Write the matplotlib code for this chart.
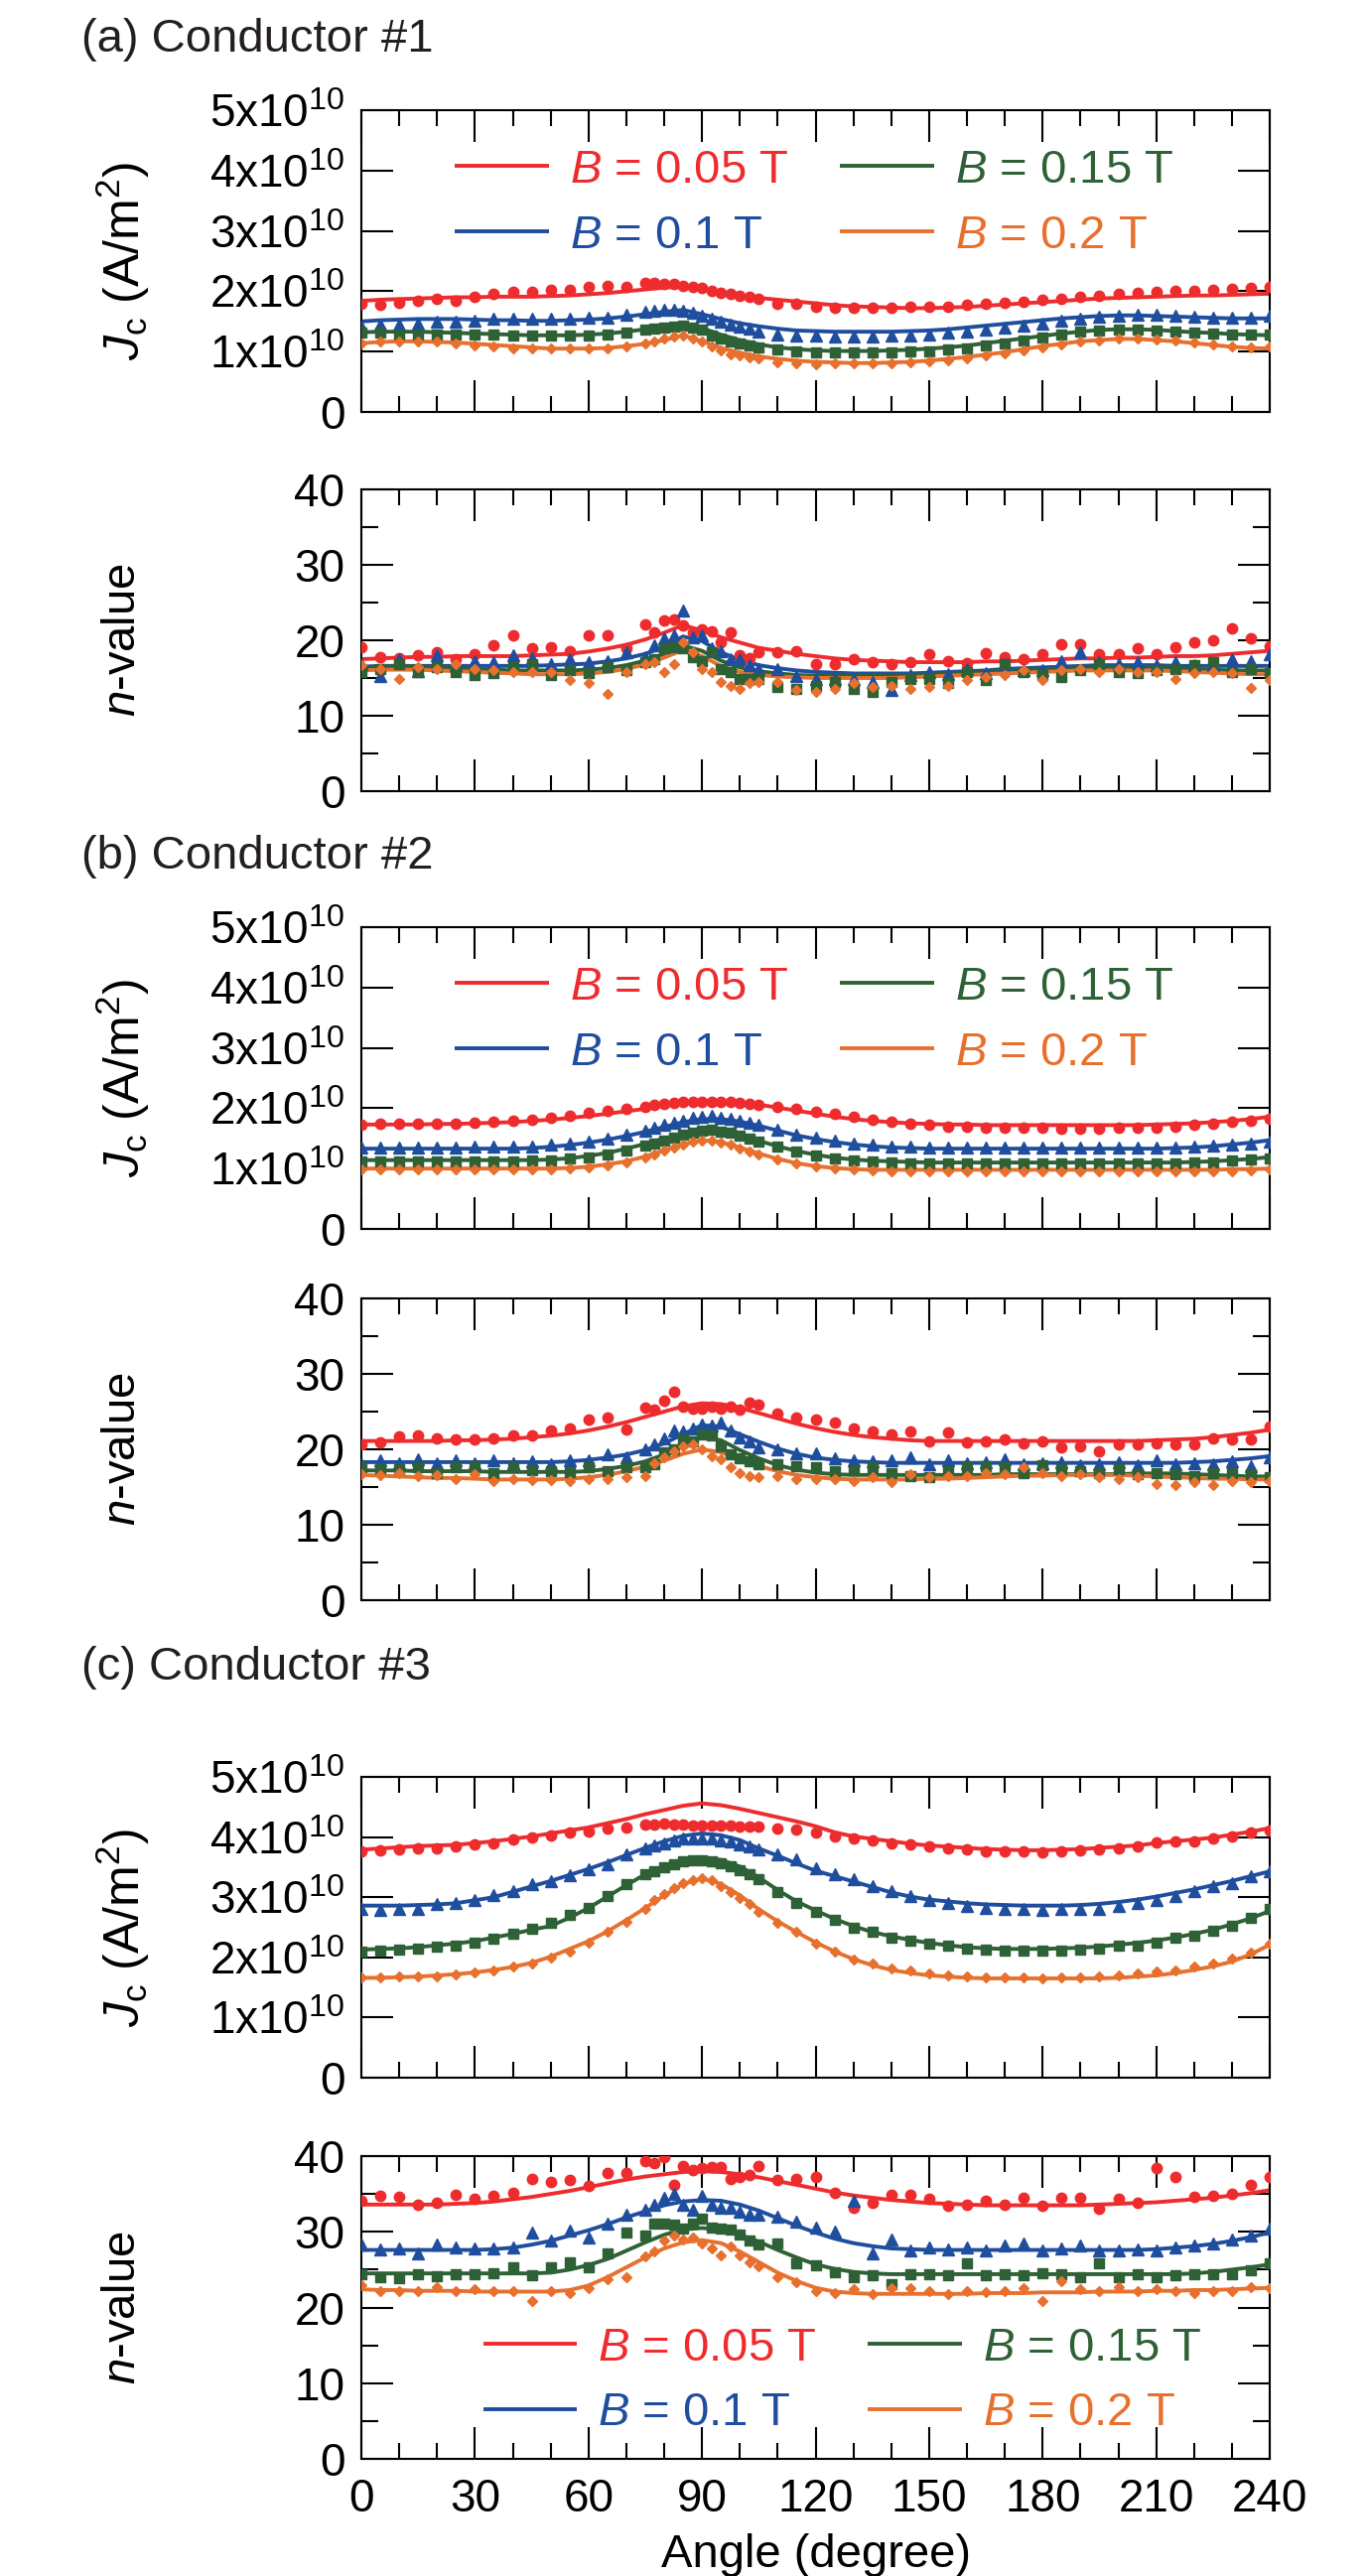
'''
Angular dependence of critical current density Jc and n-value
for three conductors at B = 0.05, 0.1, 0.15 and 0.2 T.
Symbols are measurements, solid lines are the fitted curves.
'''
import numpy as np
import matplotlib
matplotlib.use('Agg')
import matplotlib.pyplot as plt
from matplotlib.ticker import MultipleLocator, FuncFormatter

plt.rcParams['font.family'] = ['Liberation Sans', 'DejaVu Sans']
plt.rcParams['mathtext.fontset'] = 'custom'
plt.rcParams['mathtext.rm'] = 'Liberation Sans'
plt.rcParams['mathtext.it'] = 'Liberation Sans:italic'
plt.rcParams['mathtext.bf'] = 'Liberation Sans:bold'

##--------------------------------------------------------------------
# measurement angles (degree), denser around 90
angle = [0, 5, 10, 15, 20, 25, 30, 35, 40, 45, 50, 55, 60, 65, 70,
         75, 77.5, 80, 82.5, 85, 87.5, 90, 92.5, 95, 97.5, 100, 102.5, 105,
         110, 115, 120, 125, 130, 135, 140, 145, 150, 155, 160, 165, 170, 175, 180,
         185, 190, 195, 200, 205, 210, 215, 220, 225, 230, 235, 240]

# angles of the fitted curves
fit_angle = [0, 5, 10, 15, 20, 25, 30, 35, 40, 45,
             50, 55, 60, 65, 70, 75, 80, 85, 90, 95,
             100, 105, 110, 115, 120, 125, 130, 135, 140, 145,
             150, 155, 160, 165, 170, 175, 180, 185, 190, 195,
             200, 205, 210, 215, 220, 225, 230, 235, 240]

fields = ['0.05', '0.1', '0.15', '0.2']
colors = ['#EE2C2E', '#1F4E9F', '#2E6136', '#E8702E']
markers = ['o', '^', 's', 'D']
msizes = [7.5, 8.5, 7.0, 5.5]

JC_UNIT = 1e10  # Jc arrays below are in units of 1e10 A/m^2

# ---- Conductor #1, Jc ----
jc1_b005 = [1.80, 1.77, 1.81, 1.84, 1.88, 1.85, 1.91, 1.96, 1.99, 1.99, 2.02, 2.02, 2.07, 2.09, 2.07,
            2.13, 2.13, 2.12, 2.12, 2.09, 2.07, 2.05, 2.00, 1.97, 1.95, 1.93, 1.91, 1.88,
            1.80, 1.80, 1.75, 1.73, 1.72, 1.72, 1.73, 1.74, 1.74, 1.75, 1.77, 1.79, 1.81, 1.83,
            1.86, 1.88, 1.91, 1.93, 1.95, 1.97, 1.99, 2.00, 2.01, 2.03, 2.04, 2.05, 2.07]
jc1_b010 = [1.42, 1.44, 1.45, 1.46, 1.49, 1.50, 1.52, 1.54, 1.54, 1.54, 1.54, 1.55, 1.56, 1.56, 1.62,
            1.66, 1.67, 1.69, 1.70, 1.68, 1.65, 1.60, 1.54, 1.49, 1.45, 1.41, 1.38, 1.34,
            1.28, 1.27, 1.26, 1.25, 1.25, 1.25, 1.26, 1.27, 1.29, 1.31, 1.33, 1.36, 1.39, 1.43,
            1.47, 1.51, 1.55, 1.58, 1.60, 1.61, 1.61, 1.60, 1.58, 1.57, 1.56, 1.56, 1.59]
jc1_b015 = [1.31, 1.31, 1.29, 1.29, 1.29, 1.29, 1.28, 1.28, 1.27, 1.27, 1.26, 1.26, 1.27, 1.29, 1.32,
            1.36, 1.38, 1.40, 1.42, 1.43, 1.39, 1.36, 1.27, 1.22, 1.17, 1.13, 1.10, 1.07,
            1.03, 1.00, 0.99, 0.98, 0.98, 0.98, 0.99, 1.00, 1.01, 1.03, 1.06, 1.10, 1.14, 1.19,
            1.24, 1.29, 1.33, 1.35, 1.36, 1.36, 1.35, 1.33, 1.31, 1.30, 1.29, 1.28, 1.28]
jc1_b020 = [1.14, 1.17, 1.17, 1.17, 1.16, 1.14, 1.10, 1.09, 1.06, 1.05, 1.05, 1.05, 1.05, 1.06, 1.08,
            1.14, 1.17, 1.22, 1.25, 1.27, 1.22, 1.17, 1.09, 1.02, 0.96, 0.93, 0.90, 0.88,
            0.83, 0.80, 0.79, 0.80, 0.80, 0.80, 0.81, 0.82, 0.84, 0.86, 0.89, 0.93, 0.97, 1.02,
            1.07, 1.12, 1.16, 1.19, 1.21, 1.21, 1.20, 1.18, 1.15, 1.12, 1.09, 1.07, 1.08]

jc1_fit_b005 = [1.84, 1.86, 1.87, 1.88, 1.89, 1.90, 1.90, 1.91, 1.91, 1.91,
                1.92, 1.93, 1.95, 1.97, 2.00, 2.03, 2.06, 2.08, 2.04, 1.98,
                1.93, 1.89, 1.86, 1.83, 1.80, 1.77, 1.75, 1.74, 1.73, 1.72,
                1.72, 1.73, 1.74, 1.76, 1.78, 1.80, 1.82, 1.84, 1.86, 1.88,
                1.89, 1.90, 1.91, 1.92, 1.93, 1.93, 1.94, 1.95, 1.96]
jc1_fit_b010 = [1.50, 1.52, 1.53, 1.54, 1.54, 1.54, 1.53, 1.52, 1.52, 1.51,
                1.51, 1.52, 1.53, 1.55, 1.58, 1.62, 1.66, 1.69, 1.62, 1.54,
                1.47, 1.42, 1.38, 1.35, 1.34, 1.33, 1.33, 1.33, 1.33, 1.34,
                1.35, 1.37, 1.40, 1.43, 1.46, 1.49, 1.52, 1.55, 1.57, 1.59,
                1.60, 1.60, 1.59, 1.58, 1.57, 1.56, 1.55, 1.55, 1.55]
jc1_fit_b015 = [1.32, 1.33, 1.33, 1.33, 1.32, 1.31, 1.30, 1.29, 1.28, 1.27,
                1.27, 1.27, 1.28, 1.30, 1.33, 1.37, 1.42, 1.47, 1.39, 1.28,
                1.19, 1.12, 1.07, 1.04, 1.02, 1.01, 1.01, 1.01, 1.02, 1.03,
                1.05, 1.07, 1.10, 1.14, 1.18, 1.22, 1.26, 1.30, 1.33, 1.36,
                1.37, 1.37, 1.36, 1.34, 1.32, 1.31, 1.29, 1.28, 1.27]
jc1_fit_b020 = [1.14, 1.16, 1.17, 1.17, 1.16, 1.15, 1.13, 1.11, 1.09, 1.07,
                1.05, 1.05, 1.05, 1.06, 1.09, 1.13, 1.19, 1.27, 1.17, 1.06,
                0.98, 0.92, 0.88, 0.85, 0.83, 0.82, 0.81, 0.81, 0.82, 0.83,
                0.85, 0.88, 0.91, 0.95, 0.99, 1.04, 1.09, 1.13, 1.17, 1.19,
                1.21, 1.21, 1.19, 1.17, 1.14, 1.11, 1.08, 1.06, 1.05]

# ---- Conductor #1, n-value ----
n1_b005 = [19.1, 17.8, 17.6, 18.0, 18.4, 17.5, 18.2, 19.4, 20.6, 19.0, 19.1, 18.6, 20.6, 20.6, 19.0,
           22.1, 21.0, 22.6, 22.8, 22.0, 21.0, 21.4, 21.2, 19.7, 21.1, 18.0, 17.6, 18.4,
           18.4, 18.5, 16.9, 16.9, 17.5, 17.1, 16.9, 17.1, 18.1, 17.2, 17.0, 18.3, 17.8, 17.5,
           18.2, 19.5, 19.5, 18.2, 18.2, 18.9, 18.2, 19.1, 19.7, 20.0, 21.6, 20.2, 19.2]
n1_b010 = [16.9, 15.3, 17.5, 15.9, 18.0, 16.7, 17.3, 17.1, 18.0, 17.6, 16.9, 17.5, 17.1, 17.3, 18.4,
           17.8, 19.4, 20.2, 20.6, 24.0, 20.4, 20.6, 19.0, 18.6, 17.5, 17.5, 16.7, 16.2,
           16.2, 15.3, 14.9, 14.9, 14.9, 14.5, 13.4, 15.4, 15.8, 15.5, 16.2, 15.6, 16.9, 16.0,
           16.0, 17.2, 18.4, 17.1, 16.9, 17.1, 16.7, 17.1, 16.7, 16.7, 17.5, 17.3, 18.2]
n1_b015 = [15.8, 16.2, 16.9, 15.8, 16.4, 15.8, 15.4, 15.6, 16.4, 16.8, 15.4, 16.0, 15.6, 16.4, 16.0,
           17.1, 17.5, 18.9, 19.1, 18.9, 17.8, 17.3, 18.4, 16.2, 15.8, 14.9, 14.9, 14.9,
           13.8, 13.6, 14.0, 14.5, 13.6, 13.2, 14.5, 14.9, 14.9, 14.3, 15.8, 14.7, 16.9, 15.8,
           15.4, 15.1, 16.0, 16.9, 15.8, 15.6, 16.0, 16.2, 16.7, 17.1, 15.8, 16.2, 15.6]
n1_b020 = [16.7, 16.2, 14.9, 16.4, 16.2, 16.9, 16.2, 16.0, 15.8, 15.8, 15.8, 14.7, 14.3, 12.9, 15.8,
           16.9, 17.1, 15.8, 16.9, 19.7, 18.4, 16.2, 15.8, 14.5, 14.0, 13.6, 14.3, 14.5,
           14.5, 13.4, 13.2, 13.6, 14.3, 13.8, 14.0, 13.6, 13.8, 14.0, 14.7, 15.1, 15.4, 16.0,
           14.7, 16.0, 16.2, 15.8, 16.2, 15.8, 15.8, 14.9, 15.6, 15.8, 15.6, 13.7, 14.7]

n1_fit_b005 = [17.5, 17.6, 17.7, 17.8, 17.8, 17.9, 17.9, 17.9, 17.9, 18.0,
               18.1, 18.2, 18.5, 18.9, 19.4, 20.1, 21.0, 22.0, 21.3, 20.4,
               19.7, 19.0, 18.6, 18.2, 17.9, 17.6, 17.4, 17.3, 17.2, 17.1,
               17.1, 17.1, 17.1, 17.2, 17.2, 17.3, 17.4, 17.5, 17.6, 17.6,
               17.7, 17.7, 17.8, 17.9, 17.9, 18.0, 18.2, 18.4, 18.6]
n1_fit_b010 = [16.5, 16.6, 16.6, 16.6, 16.6, 16.6, 16.6, 16.6, 16.6, 16.6,
               16.7, 16.8, 16.9, 17.2, 17.6, 18.2, 19.1, 20.5, 19.9, 18.4,
               17.4, 16.7, 16.3, 16.0, 15.8, 15.7, 15.6, 15.6, 15.6, 15.6,
               15.7, 15.8, 15.9, 16.0, 16.2, 16.3, 16.4, 16.5, 16.6, 16.7,
               16.7, 16.7, 16.7, 16.6, 16.6, 16.6, 16.6, 16.6, 16.6]
n1_fit_b015 = [16.4, 16.5, 16.6, 16.5, 16.4, 16.3, 16.2, 16.1, 16.0, 16.0,
               16.0, 16.0, 16.1, 16.3, 16.7, 17.3, 18.2, 19.3, 18.6, 17.3,
               16.4, 15.9, 15.6, 15.4, 15.3, 15.3, 15.3, 15.3, 15.3, 15.4,
               15.5, 15.6, 15.7, 15.8, 15.9, 16.0, 16.1, 16.2, 16.3, 16.3,
               16.4, 16.4, 16.3, 16.3, 16.2, 16.1, 16.0, 16.0, 16.0]
n1_fit_b020 = [16.0, 16.1, 16.1, 16.1, 16.0, 15.9, 15.8, 15.7, 15.6, 15.5,
               15.5, 15.5, 15.6, 15.8, 16.2, 16.8, 17.7, 18.7, 17.9, 16.6,
               15.8, 15.4, 15.2, 15.1, 15.0, 15.0, 15.0, 15.0, 15.0, 15.1,
               15.2, 15.3, 15.4, 15.5, 15.6, 15.7, 15.8, 15.9, 16.0, 16.0,
               16.0, 16.0, 16.0, 15.9, 15.8, 15.7, 15.6, 15.5, 15.5]

# ---- Conductor #2, Jc ----
jc2_b005 = [1.73, 1.74, 1.74, 1.74, 1.75, 1.75, 1.76, 1.77, 1.79, 1.81, 1.84, 1.88, 1.92, 1.96, 1.99,
            2.03, 2.06, 2.08, 2.09, 2.10, 2.10, 2.10, 2.10, 2.10, 2.10, 2.09, 2.08, 2.06,
            2.03, 1.99, 1.94, 1.90, 1.86, 1.81, 1.77, 1.74, 1.72, 1.70, 1.69, 1.68, 1.68, 1.67,
            1.67, 1.66, 1.66, 1.66, 1.67, 1.67, 1.68, 1.70, 1.72, 1.74, 1.77, 1.80, 1.83]
jc2_b010 = [1.35, 1.35, 1.35, 1.35, 1.35, 1.35, 1.36, 1.36, 1.36, 1.37, 1.39, 1.42, 1.45, 1.50, 1.56,
            1.63, 1.67, 1.72, 1.76, 1.80, 1.84, 1.86, 1.87, 1.85, 1.83, 1.80, 1.76, 1.72,
            1.64, 1.57, 1.51, 1.46, 1.42, 1.39, 1.37, 1.36, 1.35, 1.35, 1.35, 1.35, 1.35, 1.35,
            1.35, 1.35, 1.35, 1.35, 1.35, 1.35, 1.35, 1.35, 1.37, 1.38, 1.40, 1.42, 1.44]
jc2_b015 = [1.12, 1.12, 1.12, 1.12, 1.12, 1.12, 1.12, 1.12, 1.12, 1.13, 1.14, 1.16, 1.19, 1.24, 1.30,
            1.38, 1.42, 1.47, 1.52, 1.56, 1.60, 1.63, 1.64, 1.62, 1.59, 1.55, 1.50, 1.45,
            1.36, 1.28, 1.22, 1.17, 1.14, 1.12, 1.10, 1.09, 1.09, 1.09, 1.09, 1.09, 1.09, 1.09,
            1.09, 1.09, 1.09, 1.09, 1.09, 1.09, 1.09, 1.09, 1.10, 1.11, 1.13, 1.15, 1.17]
jc2_b020 = [0.99, 0.99, 0.99, 0.99, 0.99, 0.99, 0.99, 0.99, 0.99, 0.99, 0.99, 1.00, 1.02, 1.06, 1.11,
            1.19, 1.24, 1.30, 1.35, 1.40, 1.45, 1.47, 1.46, 1.43, 1.39, 1.34, 1.28, 1.23,
            1.15, 1.08, 1.03, 1.00, 0.98, 0.97, 0.96, 0.96, 0.96, 0.95, 0.95, 0.95, 0.95, 0.95,
            0.95, 0.95, 0.95, 0.95, 0.95, 0.95, 0.95, 0.95, 0.95, 0.95, 0.96, 0.97, 0.99]

jc2_fit_b005 = [1.73, 1.73, 1.73, 1.73, 1.74, 1.74, 1.75, 1.76, 1.77, 1.79,
                1.81, 1.84, 1.87, 1.91, 1.95, 1.99, 2.04, 2.08, 2.12, 2.12,
                2.10, 2.06, 2.01, 1.96, 1.91, 1.86, 1.82, 1.79, 1.77, 1.75,
                1.74, 1.73, 1.73, 1.72, 1.72, 1.72, 1.72, 1.72, 1.72, 1.72,
                1.72, 1.72, 1.73, 1.74, 1.75, 1.77, 1.79, 1.82, 1.86]
jc2_fit_b010 = [1.33, 1.33, 1.33, 1.33, 1.33, 1.33, 1.33, 1.33, 1.33, 1.34,
                1.36, 1.39, 1.43, 1.48, 1.54, 1.61, 1.69, 1.77, 1.82, 1.82,
                1.78, 1.71, 1.63, 1.55, 1.49, 1.44, 1.40, 1.37, 1.35, 1.34,
                1.33, 1.33, 1.33, 1.33, 1.33, 1.33, 1.33, 1.33, 1.33, 1.33,
                1.33, 1.33, 1.33, 1.34, 1.35, 1.37, 1.40, 1.43, 1.47]
jc2_fit_b015 = [1.14, 1.14, 1.14, 1.14, 1.14, 1.14, 1.14, 1.14, 1.14, 1.14,
                1.15, 1.17, 1.21, 1.26, 1.33, 1.41, 1.50, 1.57, 1.62, 1.61,
                1.55, 1.46, 1.37, 1.29, 1.23, 1.18, 1.15, 1.13, 1.12, 1.11,
                1.10, 1.10, 1.10, 1.10, 1.10, 1.10, 1.10, 1.10, 1.10, 1.10,
                1.10, 1.10, 1.10, 1.10, 1.11, 1.12, 1.14, 1.16, 1.19]
jc2_fit_b020 = [1.00, 1.00, 1.00, 1.00, 1.00, 1.00, 1.00, 1.00, 1.00, 1.00,
                1.00, 1.01, 1.03, 1.07, 1.12, 1.20, 1.30, 1.40, 1.47, 1.44,
                1.35, 1.25, 1.16, 1.09, 1.04, 1.01, 0.99, 0.98, 0.98, 0.98,
                0.98, 0.98, 0.98, 0.98, 0.98, 0.98, 0.98, 0.98, 0.98, 0.98,
                0.98, 0.98, 0.98, 0.98, 0.98, 0.98, 0.99, 0.99, 1.00]

# ---- Conductor #2, n-value ----
n2_b005 = [20.7, 20.9, 21.7, 21.8, 21.5, 21.3, 21.3, 21.5, 21.8, 21.8, 22.5, 22.7, 24.0, 24.2, 22.6,
           25.5, 25.3, 26.4, 27.6, 25.6, 25.4, 25.4, 25.6, 25.4, 25.6, 25.2, 26.2, 25.9,
           24.8, 24.2, 24.0, 23.5, 22.7, 22.4, 22.0, 22.4, 21.1, 22.3, 20.9, 21.1, 21.3, 20.8,
           21.1, 20.2, 20.4, 19.8, 20.7, 20.7, 20.8, 20.7, 20.7, 21.5, 21.3, 21.3, 23.0]
n2_b010 = [18.0, 18.6, 18.2, 18.7, 18.2, 18.5, 18.2, 18.6, 18.2, 18.4, 18.0, 18.6, 18.6, 19.3, 19.0,
           20.0, 20.7, 21.4, 22.5, 22.4, 22.8, 23.3, 23.1, 23.6, 22.5, 21.6, 21.0, 20.2,
           20.0, 19.5, 19.5, 18.8, 18.5, 18.4, 18.6, 18.9, 18.0, 18.6, 18.1, 18.3, 18.7, 18.0,
           18.1, 18.3, 17.9, 18.0, 18.3, 17.9, 18.6, 18.0, 18.1, 18.0, 18.4, 17.8, 19.0]
n2_b015 = [17.6, 17.4, 17.4, 17.6, 16.9, 17.6, 17.8, 16.9, 17.6, 17.3, 17.1, 17.0, 17.6, 17.1, 17.6,
           17.6, 18.0, 19.6, 20.0, 21.3, 21.1, 22.0, 21.8, 20.4, 19.3, 18.8, 18.4, 18.0,
           18.0, 17.8, 17.6, 17.1, 17.3, 17.6, 16.9, 16.5, 16.3, 17.1, 17.6, 17.8, 17.6, 16.9,
           17.9, 17.4, 17.1, 16.9, 17.4, 16.7, 16.9, 16.7, 16.5, 16.9, 16.9, 16.7, 16.3]
n2_b020 = [16.7, 16.6, 16.9, 16.5, 16.6, 16.0, 16.7, 15.8, 16.0, 15.9, 15.9, 15.8, 16.0, 16.0, 16.3,
           16.5, 18.2, 18.9, 19.8, 20.4, 20.7, 20.0, 19.1, 18.7, 17.6, 16.9, 16.5, 16.3,
           16.5, 16.1, 16.0, 16.0, 15.8, 16.3, 15.6, 16.7, 16.3, 16.5, 16.5, 16.9, 16.7, 17.6,
           16.9, 16.5, 16.7, 16.3, 16.0, 16.3, 15.4, 15.2, 15.6, 15.2, 15.8, 15.6, 15.8]

n2_fit_b005 = [21.1, 21.1, 21.1, 21.1, 21.1, 21.2, 21.2, 21.3, 21.4, 21.6,
               21.8, 22.1, 22.5, 23.0, 23.6, 24.3, 25.0, 25.7, 26.1, 26.0,
               25.5, 24.8, 24.1, 23.4, 22.8, 22.3, 21.9, 21.6, 21.4, 21.2,
               21.1, 21.1, 21.1, 21.1, 21.1, 21.1, 21.1, 21.1, 21.1, 21.1,
               21.1, 21.1, 21.2, 21.3, 21.4, 21.6, 21.9, 22.2, 22.6]
n2_fit_b010 = [18.3, 18.3, 18.3, 18.3, 18.3, 18.3, 18.3, 18.3, 18.3, 18.3,
               18.3, 18.4, 18.6, 18.9, 19.3, 19.9, 20.8, 22.0, 23.2, 23.0,
               22.0, 21.0, 20.1, 19.4, 18.9, 18.6, 18.4, 18.3, 18.2, 18.2,
               18.2, 18.2, 18.2, 18.2, 18.2, 18.2, 18.2, 18.2, 18.2, 18.2,
               18.2, 18.2, 18.2, 18.2, 18.3, 18.4, 18.6, 18.8, 19.1]
n2_fit_b015 = [17.2, 17.2, 17.2, 17.1, 17.1, 17.1, 17.1, 17.0, 17.0, 17.0,
               17.0, 17.0, 17.1, 17.4, 17.8, 18.4, 19.3, 20.5, 21.6, 21.2,
               19.9, 18.8, 17.9, 17.3, 16.9, 16.7, 16.6, 16.6, 16.6, 16.6,
               16.6, 16.6, 16.6, 16.6, 16.7, 16.7, 16.7, 16.7, 16.7, 16.7,
               16.7, 16.8, 16.8, 16.8, 16.7, 16.6, 16.5, 16.4, 16.4]
n2_fit_b020 = [16.6, 16.5, 16.4, 16.3, 16.2, 16.2, 16.1, 16.0, 16.0, 16.0,
               16.0, 16.1, 16.3, 16.6, 17.1, 17.7, 18.5, 19.4, 20.0, 19.6,
               18.7, 17.8, 17.1, 16.6, 16.3, 16.1, 16.0, 16.0, 16.0, 16.0,
               16.1, 16.1, 16.2, 16.3, 16.4, 16.5, 16.5, 16.6, 16.6, 16.6,
               16.6, 16.5, 16.4, 16.3, 16.2, 16.1, 16.1, 16.0, 16.0]

# ---- Conductor #3, Jc ----
jc3_b005 = [3.76, 3.78, 3.79, 3.81, 3.82, 3.85, 3.87, 3.90, 3.96, 4.00, 4.02, 4.07, 4.09, 4.15, 4.16,
            4.20, 4.21, 4.22, 4.21, 4.20, 4.19, 4.19, 4.19, 4.19, 4.19, 4.18, 4.18, 4.18,
            4.15, 4.12, 4.07, 4.01, 3.97, 3.94, 3.90, 3.87, 3.85, 3.82, 3.79, 3.77, 3.76, 3.76,
            3.75, 3.76, 3.78, 3.80, 3.82, 3.85, 3.91, 3.93, 3.93, 3.98, 4.01, 4.07, 4.11]
jc3_b010 = [2.80, 2.79, 2.80, 2.81, 2.88, 2.91, 2.96, 3.03, 3.10, 3.21, 3.27, 3.36, 3.46, 3.54, 3.71,
            3.82, 3.86, 3.90, 3.95, 3.97, 3.98, 3.98, 3.97, 3.95, 3.92, 3.88, 3.84, 3.79,
            3.71, 3.63, 3.49, 3.38, 3.30, 3.19, 3.10, 3.02, 2.96, 2.90, 2.86, 2.83, 2.81, 2.80,
            2.79, 2.80, 2.81, 2.81, 2.86, 2.91, 2.96, 3.02, 3.10, 3.19, 3.24, 3.35, 3.43]
jc3_b015 = [2.10, 2.12, 2.13, 2.14, 2.17, 2.20, 2.25, 2.31, 2.39, 2.47, 2.58, 2.70, 2.83, 3.02, 3.21,
            3.38, 3.44, 3.50, 3.55, 3.59, 3.61, 3.62, 3.60, 3.56, 3.51, 3.45, 3.38, 3.30,
            3.08, 2.91, 2.76, 2.63, 2.50, 2.42, 2.32, 2.28, 2.23, 2.20, 2.15, 2.13, 2.12, 2.12,
            2.12, 2.12, 2.13, 2.15, 2.19, 2.20, 2.25, 2.32, 2.36, 2.45, 2.53, 2.65, 2.80]
jc3_b020 = [1.66, 1.66, 1.68, 1.68, 1.69, 1.71, 1.75, 1.79, 1.84, 1.90, 1.99, 2.10, 2.25, 2.42, 2.59,
            2.80, 2.95, 3.06, 3.16, 3.24, 3.29, 3.32, 3.28, 3.18, 3.08, 2.98, 2.88, 2.75,
            2.58, 2.42, 2.23, 2.09, 1.97, 1.90, 1.82, 1.79, 1.73, 1.70, 1.68, 1.66, 1.66, 1.66,
            1.65, 1.66, 1.66, 1.68, 1.70, 1.73, 1.76, 1.79, 1.84, 1.90, 1.98, 2.08, 2.23]

jc3_fit_b005 = [3.79, 3.81, 3.83, 3.85, 3.86, 3.87, 3.90, 3.93, 3.97, 4.01,
                4.06, 4.11, 4.16, 4.23, 4.30, 4.38, 4.45, 4.52, 4.56, 4.53,
                4.47, 4.40, 4.33, 4.26, 4.18, 4.08, 4.01, 3.97, 3.93, 3.89,
                3.86, 3.84, 3.82, 3.80, 3.79, 3.78, 3.78, 3.79, 3.80, 3.82,
                3.84, 3.86, 3.90, 3.93, 3.96, 3.99, 4.04, 4.09, 4.15]
jc3_fit_b010 = [2.86, 2.86, 2.86, 2.87, 2.88, 2.90, 2.95, 3.00, 3.09, 3.18,
                3.27, 3.37, 3.47, 3.58, 3.70, 3.82, 3.93, 4.02, 4.06, 4.03,
                3.95, 3.81, 3.69, 3.56, 3.44, 3.35, 3.26, 3.17, 3.08, 3.01,
                2.96, 2.93, 2.90, 2.88, 2.87, 2.86, 2.86, 2.86, 2.87, 2.89,
                2.92, 2.96, 3.01, 3.07, 3.13, 3.20, 3.27, 3.35, 3.43]
jc3_fit_b015 = [2.13, 2.14, 2.15, 2.17, 2.20, 2.23, 2.27, 2.33, 2.39, 2.46,
                2.52, 2.66, 2.82, 3.01, 3.20, 3.38, 3.52, 3.61, 3.66, 3.62,
                3.51, 3.33, 3.12, 2.93, 2.78, 2.64, 2.52, 2.42, 2.35, 2.29,
                2.24, 2.20, 2.17, 2.15, 2.14, 2.14, 2.14, 2.15, 2.16, 2.18,
                2.21, 2.24, 2.28, 2.33, 2.39, 2.46, 2.55, 2.65, 2.77]
jc3_fit_b020 = [1.66, 1.66, 1.67, 1.68, 1.70, 1.72, 1.75, 1.79, 1.84, 1.91,
                2.01, 2.14, 2.27, 2.43, 2.62, 2.82, 3.03, 3.22, 3.31, 3.22,
                3.03, 2.80, 2.60, 2.42, 2.25, 2.10, 1.97, 1.87, 1.79, 1.74,
                1.70, 1.68, 1.66, 1.65, 1.65, 1.65, 1.65, 1.65, 1.65, 1.65,
                1.66, 1.68, 1.70, 1.74, 1.79, 1.85, 1.93, 2.05, 2.21]

# ---- Conductor #3, n-value ----
n3_b005 = [34.1, 34.7, 34.6, 33.6, 33.8, 34.9, 34.4, 34.7, 35.2, 37.0, 36.6, 36.8, 36.1, 37.8, 37.8,
           39.3, 39.1, 39.9, 36.2, 38.7, 38.1, 38.4, 38.6, 38.6, 37.0, 37.3, 37.5, 38.7,
           36.9, 37.0, 37.2, 35.2, 33.2, 33.8, 34.9, 34.9, 34.4, 33.5, 33.6, 34.1, 33.6, 34.5,
           33.5, 34.5, 34.5, 33.0, 34.3, 33.8, 38.4, 37.2, 34.6, 34.7, 35.0, 36.2, 37.3]
n3_b010 = [28.3, 27.7, 27.8, 27.1, 28.3, 28.0, 27.8, 27.8, 28.0, 29.9, 28.8, 30.1, 29.2, 31.1, 32.3,
           32.9, 33.6, 34.5, 35.0, 33.6, 32.9, 34.7, 33.6, 33.2, 33.2, 32.6, 32.2, 32.2,
           32.0, 31.3, 30.6, 30.0, 34.1, 27.2, 29.0, 27.6, 28.0, 27.7, 28.0, 27.5, 28.2, 28.5,
           27.5, 27.8, 28.2, 27.6, 27.6, 27.7, 27.6, 28.0, 28.2, 28.5, 29.0, 29.5, 30.4]
n3_b015 = [24.4, 24.0, 23.9, 24.4, 24.1, 24.4, 24.4, 24.5, 25.3, 24.2, 25.3, 26.0, 25.3, 27.2, 29.9,
           29.5, 31.1, 31.1, 30.9, 30.4, 31.1, 31.8, 30.6, 30.4, 30.3, 29.6, 28.8, 28.3,
           28.5, 25.8, 25.6, 24.7, 24.0, 24.3, 23.1, 24.4, 24.4, 24.3, 25.8, 24.2, 24.4, 24.2,
           24.5, 24.4, 24.0, 25.8, 24.0, 24.4, 24.0, 24.2, 24.4, 24.4, 24.4, 24.9, 25.9]
n3_b020 = [23.0, 22.1, 22.2, 22.1, 22.7, 22.1, 22.4, 22.1, 22.2, 20.8, 22.1, 21.9, 22.6, 23.7, 24.0,
           26.7, 27.4, 28.8, 29.5, 29.0, 29.2, 28.5, 27.8, 26.9, 28.1, 26.9, 26.0, 25.4,
           24.0, 23.4, 22.1, 21.9, 22.4, 21.8, 22.5, 22.6, 22.1, 21.8, 22.1, 22.0, 22.1, 22.6,
           20.8, 23.5, 22.4, 22.1, 22.7, 22.1, 22.4, 22.1, 21.9, 22.1, 22.2, 22.7, 22.6]

n3_fit_b005 = [33.6, 33.6, 33.6, 33.6, 33.6, 33.7, 33.8, 34.0, 34.3, 34.6,
               35.0, 35.4, 35.9, 36.4, 36.9, 37.3, 37.6, 37.9, 38.0, 37.9,
               37.6, 37.2, 36.7, 36.2, 35.7, 35.2, 34.8, 34.5, 34.2, 34.0,
               33.8, 33.7, 33.6, 33.5, 33.5, 33.5, 33.5, 33.5, 33.5, 33.6,
               33.7, 33.8, 33.9, 34.1, 34.3, 34.5, 34.8, 35.1, 35.5]
n3_fit_b010 = [27.6, 27.6, 27.6, 27.6, 27.6, 27.6, 27.6, 27.7, 27.9, 28.3,
               28.8, 29.5, 30.2, 31.0, 31.9, 32.7, 33.5, 34.0, 34.2, 34.1,
               33.6, 32.8, 31.8, 30.8, 29.9, 29.1, 28.5, 28.1, 27.8, 27.7,
               27.6, 27.6, 27.6, 27.6, 27.6, 27.6, 27.6, 27.6, 27.6, 27.6,
               27.6, 27.6, 27.7, 27.9, 28.1, 28.4, 28.8, 29.3, 29.9]
n3_fit_b015 = [24.5, 24.5, 24.5, 24.5, 24.5, 24.5, 24.5, 24.5, 24.5, 24.5,
               24.6, 25.0, 25.6, 26.4, 27.5, 28.6, 29.6, 30.3, 30.5, 30.3,
               29.6, 28.7, 27.6, 26.6, 25.7, 25.1, 24.7, 24.5, 24.4, 24.4,
               24.4, 24.4, 24.4, 24.4, 24.4, 24.4, 24.4, 24.4, 24.4, 24.4,
               24.4, 24.4, 24.4, 24.4, 24.5, 24.7, 25.0, 25.3, 25.7]
n3_fit_b020 = [22.4, 22.3, 22.3, 22.2, 22.2, 22.2, 22.1, 22.1, 22.1, 22.1,
               22.1, 22.3, 22.9, 24.0, 25.3, 26.6, 27.8, 28.6, 28.9, 28.5,
               27.4, 26.0, 24.6, 23.5, 22.6, 22.1, 21.9, 21.8, 21.8, 21.8,
               21.8, 21.8, 21.8, 21.9, 21.9, 21.9, 22.0, 22.0, 22.0, 22.1,
               22.1, 22.1, 22.2, 22.2, 22.3, 22.3, 22.4, 22.5, 22.6]
##--------------------------------------------------------------------

FIG_W, FIG_H = 1379, 2595  # pixels at dpi 100
AX_LEFT, AX_RIGHT = 364, 1279


def px_axes(fig, top, bottom):
    # place an axes from pixel edges measured from the top-left corner
    return fig.add_axes([AX_LEFT / FIG_W, 1 - bottom / FIG_H,
                         (AX_RIGHT - AX_LEFT) / FIG_W, (bottom - top) / FIG_H])


def jc_tick(v, pos):
    k = int(round(v / JC_UNIT))
    if k == 0:
        return '0'
    return r'$%d\mathrm{x}10^{10}$' % k


def style_axes(ax, kind, show_xlabels):
    ax.set_xlim(0, 240)
    ax.xaxis.set_major_locator(MultipleLocator(30))
    ax.xaxis.set_minor_locator(MultipleLocator(10))
    if kind == 'jc':
        ax.set_ylim(0, 5 * JC_UNIT)
        ax.yaxis.set_major_locator(MultipleLocator(JC_UNIT))
        ax.yaxis.set_major_formatter(FuncFormatter(jc_tick))
    else:
        ax.set_ylim(0, 40)
        ax.yaxis.set_major_locator(MultipleLocator(10))
        ax.yaxis.set_minor_locator(MultipleLocator(5))
    for sp in ax.spines.values():
        sp.set_linewidth(1.5)
    ax.tick_params(which='both', direction='in', top=True, right=True,
                   width=1.5, labelsize=33, pad=12)
    ax.tick_params(which='major', length=23)
    ax.tick_params(axis='x', which='minor', length=11.5)
    ax.tick_params(axis='y', which='minor', length=12)
    ax.tick_params(axis='x', labelbottom=show_xlabels, pad=14)


def draw_panel(ax, data, fits, kind, legend_at=None):
    scale = JC_UNIT if kind == 'jc' else 1.0
    handles = []
    for i in range(4):
        line, = ax.plot(fit_angle, np.asarray(fits[i]) * scale, color=colors[i],
                        lw=2.8, zorder=2, solid_capstyle='butt')
        ax.plot(angle, np.asarray(data[i]) * scale, ls='none', marker=markers[i],
                ms=msizes[i], color=colors[i], mec=colors[i], zorder=3)
        handles.append(line)
    if legend_at is not None:
        labels = [r'$\it{B}$ = %s T' % f for f in fields]
        leg = ax.legend(handles, labels, ncol=2, loc='upper left',
                        bbox_to_anchor=legend_at, frameon=False, fontsize=34,
                        handlelength=2.0, handletextpad=0.45, columnspacing=1.1,
                        labelspacing=0.46, borderpad=0, borderaxespad=0)
        for t, c in zip(leg.get_texts(), colors):
            t.set_color(c)


def main():
    fig = plt.figure(figsize=(FIG_W / 100, FIG_H / 100), dpi=100)

    panels = [
        (111, 415, 'jc', [jc1_b005, jc1_b010, jc1_b015, jc1_b020],
         [jc1_fit_b005, jc1_fit_b010, jc1_fit_b015, jc1_fit_b020], (0.103, 0.872)),
        (493, 797, 'n', [n1_b005, n1_b010, n1_b015, n1_b020],
         [n1_fit_b005, n1_fit_b010, n1_fit_b015, n1_fit_b020], None),
        (934, 1238, 'jc', [jc2_b005, jc2_b010, jc2_b015, jc2_b020],
         [jc2_fit_b005, jc2_fit_b010, jc2_fit_b015, jc2_fit_b020], (0.103, 0.872)),
        (1308, 1612, 'n', [n2_b005, n2_b010, n2_b015, n2_b020],
         [n2_fit_b005, n2_fit_b010, n2_fit_b015, n2_fit_b020], None),
        (1790, 2093, 'jc', [jc3_b005, jc3_b010, jc3_b015, jc3_b020],
         [jc3_fit_b005, jc3_fit_b010, jc3_fit_b015, jc3_fit_b020], None),
        (2172, 2477, 'n', [n3_b005, n3_b010, n3_b015, n3_b020],
         [n3_fit_b005, n3_fit_b010, n3_fit_b015, n3_fit_b020], (0.134, 0.437)),
    ]

    for k, (top, bottom, kind, data, fits, leg_pos) in enumerate(panels):
        ax = px_axes(fig, top, bottom)
        draw_panel(ax, data, fits, kind, leg_pos)
        style_axes(ax, kind, show_xlabels=(k == len(panels) - 1))
        if kind == 'jc':
            ylab, ysize = r'$J_{\rm c}$ (A/m$^2$)', 36
        else:
            ylab, ysize = r'$n$-value', 34
        fig.text(124 / FIG_W, 1 - (top + bottom) / 2 / FIG_H, ylab, rotation=90,
                 ha='center', va='center', fontsize=ysize)
        if k == len(panels) - 1:
            ax.set_xlabel('Angle (degree)', fontsize=34, labelpad=8)

    # conductor headings
    for txt, y in [('(a) Conductor #1', 40), ('(b) Conductor #2', 863),
                   ('(c) Conductor #3', 1680)]:
        fig.text(82 / FIG_W, 1 - y / FIG_H, txt, ha='left', va='center',
                 fontsize=34, color='#231f20')

    fig.savefig('out.png', dpi=100)


if __name__ == "__main__":
    main()
